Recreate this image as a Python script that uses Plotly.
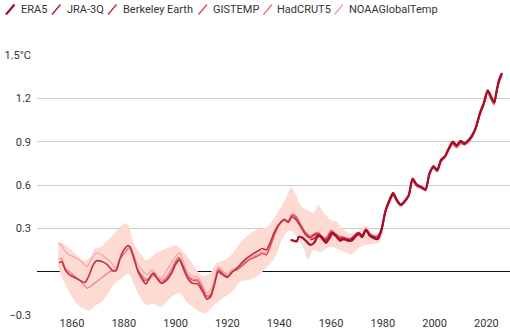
import plotly.graph_objects as go

# ---- Data: smoothed global temperature anomalies (°C above 1850-1900) ----
be_years = [1855, 1856, 1857.5, 1859, 1861, 1863, 1865, 1866.5, 1868, 1869.5, 1871.5, 1873.5, 1875.5, 1877,
            1878.5, 1880, 1881.5, 1882.5, 1884, 1885.5, 1887, 1888.5, 1890, 1891.5, 1893, 1894.5, 1896.5,
            1898.5, 1900, 1901.5, 1903, 1904.5, 1906.5, 1908.5, 1910.5, 1912, 1913.5, 1915, 1916.5, 1918,
            1920, 1922, 1924, 1926, 1928, 1930, 1932, 1933.5, 1935, 1936.5, 1938, 1940, 1942, 1943.5, 1945,
            1946.5, 1948, 1950, 1952, 1954, 1955.5, 1957, 1958.5, 1960, 1961.5, 1963, 1964.5, 1966, 1967.5,
            1969, 1970.5, 1972, 1973.5, 1975, 1976.5, 1978, 1979.5, 1981, 1982.5, 1984, 1985.5, 1987, 1988.5,
            1990, 1991.5, 1993, 1995, 1996.5, 1998, 1999.5, 2001, 2002.5, 2004, 2005.5, 2007, 2008.5, 2010,
            2011.5, 2013, 2014.5, 2016, 2017.5, 2019, 2020.5, 2022, 2023, 2024, 2025, 2026]
be_vals = [0.06, 0.07, 0.01, -0.02, -0.04, -0.06, -0.075, -0.03, 0.04, 0.075, 0.07, 0.05, 0.01, 0.005,
           0.09, 0.15, 0.18, 0.17, 0.09, 0.0, -0.05, -0.085, -0.04, -0.01, -0.05, -0.08, -0.06,
           -0.01, 0.05, 0.08, 0.02, -0.04, -0.08, -0.085, -0.14, -0.19, -0.175, -0.09, 0.0, -0.02,
           -0.04, 0.0, 0.03, 0.07, 0.10, 0.125, 0.145, 0.16, 0.15, 0.20, 0.27, 0.33, 0.36, 0.34, 0.38,
           0.36, 0.32, 0.26, 0.235, 0.26, 0.255, 0.215, 0.225, 0.27, 0.25, 0.23, 0.235, 0.225, 0.225,
           0.25, 0.27, 0.25, 0.295, 0.26, 0.245, 0.245, 0.30, 0.42, 0.49, 0.54, 0.49, 0.46, 0.49,
           0.53, 0.64, 0.605, 0.585, 0.57, 0.675, 0.725, 0.70, 0.77, 0.80, 0.85, 0.895, 0.87, 0.90,
           0.885, 0.905, 0.94, 1.0, 1.095, 1.165, 1.25, 1.195, 1.17, 1.255, 1.33, 1.37]

had_years = [1855, 1856, 1857.5, 1859, 1861, 1863, 1864.5, 1866, 1867.5, 1869.5, 1872, 1874.5, 1876.5,
             1878.5, 1880.5, 1882, 1883.5, 1885.5, 1887.5, 1889.5, 1891.5, 1893.5, 1895, 1897, 1899, 1901,
             1903, 1904.5, 1906.5, 1908.5, 1910.5, 1912, 1913.5, 1915, 1916.5, 1918, 1920, 1922, 1924, 1926,
             1928, 1930, 1932, 1933.5, 1935, 1936.5, 1938, 1940, 1942, 1943.5, 1945, 1946.5, 1948, 1950,
             1952, 1954, 1955.5, 1957, 1958.5, 1960, 1961.5, 1963, 1964.5, 1966, 1967.5, 1969, 1970.5, 1972,
             1973.5, 1975, 1976.5, 1978, 1979.5, 1981, 1982.5, 1984, 1985.5, 1987, 1988.5, 1990, 1991.5,
             1993, 1995, 1996.5, 1998, 1999.5, 2001, 2002.5, 2004, 2005.5, 2007, 2008.5, 2010, 2011.5, 2013,
             2014.5, 2016, 2017.5, 2019, 2020.5, 2022, 2023, 2024, 2025, 2026]
had_vals = [0.09, 0.09, 0.02, 0.0, -0.03, -0.06, -0.09, -0.115, -0.095, -0.07, -0.035, 0.0, 0.01,
            0.09, 0.13, 0.165, 0.105, 0.01, -0.035, -0.06, -0.025, -0.05, -0.06, -0.025, 0.04, 0.10,
            0.04, -0.02, -0.05, -0.055, -0.115, -0.165, -0.155, -0.075, 0.02, -0.005, -0.03, 0.005, 0.02, 0.05,
            0.08, 0.10, 0.115, 0.13, 0.12, 0.175, 0.25, 0.32, 0.355, 0.345, 0.39, 0.375, 0.33, 0.27,
            0.24, 0.26, 0.26, 0.22, 0.235, 0.285, 0.26, 0.24, 0.235, 0.225, 0.22, 0.24, 0.255, 0.235,
            0.285, 0.25, 0.235, 0.235, 0.29, 0.41, 0.475, 0.525, 0.48, 0.455, 0.48, 0.52, 0.625,
            0.59, 0.575, 0.56, 0.665, 0.715, 0.69, 0.76, 0.79, 0.84, 0.88, 0.855, 0.885, 0.875, 0.895,
            0.93, 0.99, 1.08, 1.15, 1.235, 1.18, 1.155, 1.24, 1.31, 1.355]

noaa_years = [1855, 1856, 1857.5, 1859, 1861, 1863, 1864.5, 1865.7, 1867, 1868.5, 1870, 1871.5, 1873.5,
              1875.5, 1877.3, 1879, 1880.5, 1882, 1883.7, 1885.2, 1887, 1889, 1891, 1892.7, 1894.6, 1896.6,
              1898.5, 1900.4, 1901.7, 1903, 1904.5, 1906.5, 1908.5, 1910.5, 1912, 1913.5, 1915, 1916.5, 1918,
              1920, 1922, 1924, 1926, 1928, 1930, 1932, 1933.5, 1935, 1936.5, 1938, 1940, 1942, 1943.5, 1945,
              1946.5, 1948, 1950, 1952, 1954, 1955.5, 1957, 1958.5, 1960, 1961.5, 1963, 1964.5, 1966, 1967.5,
              1969, 1970.5, 1972, 1973.5, 1975, 1976.5, 1978, 1979.5, 1981, 1982.5, 1984, 1985.5, 1987,
              1988.5, 1990, 1991.5, 1993, 1995, 1996.5, 1998, 1999.5, 2001, 2002.5, 2004, 2005.5, 2007,
              2008.5, 2010, 2011.5, 2013, 2014.5, 2016, 2017.5, 2019, 2020.5, 2022, 2023, 2024, 2025, 2026]
noaa_vals = [0.195, 0.18, 0.14, 0.115, 0.10, 0.08, 0.055, 0.035, 0.07, 0.115, 0.13, 0.115, 0.09,
             0.055, 0.015, 0.10, 0.14, 0.17, 0.125, 0.055, 0.01, -0.02, 0.01, -0.02, -0.045, 0.01,
             0.065, 0.115, 0.13, 0.07, 0.0, -0.03, -0.035, -0.095, -0.145, -0.13, -0.055, 0.035, 0.01,
             -0.015, 0.02, 0.03, 0.06, 0.09, 0.11, 0.125, 0.14, 0.13, 0.185, 0.26, 0.33, 0.365, 0.355, 0.40,
             0.385, 0.34, 0.28, 0.25, 0.27, 0.27, 0.23, 0.245, 0.29, 0.27, 0.25, 0.245, 0.235, 0.23,
             0.25, 0.265, 0.245, 0.29, 0.255, 0.24, 0.24, 0.295, 0.415, 0.48, 0.53, 0.485, 0.46,
             0.485, 0.52, 0.63, 0.595, 0.58, 0.565, 0.67, 0.72, 0.695, 0.765, 0.795, 0.845, 0.885,
             0.86, 0.89, 0.88, 0.90, 0.935, 0.995, 1.085, 1.155, 1.24, 1.19, 1.16, 1.245, 1.32, 1.36]

gis_years = [1885, 1886.5, 1888, 1889.5, 1891, 1892.5, 1894.5, 1896.5, 1898.5, 1900, 1901.5, 1903, 1904.5,
             1906.5, 1908.5, 1910.5, 1912, 1913.5, 1915, 1916.5, 1918, 1920, 1922, 1924, 1926, 1928, 1930,
             1932, 1933.5, 1935, 1936.5, 1938, 1940, 1942, 1943.5, 1945, 1946.5, 1948, 1950, 1952, 1954,
             1955.5, 1957, 1958.5, 1960, 1961.5, 1963, 1964.5, 1966, 1967.5, 1969, 1970.5, 1972, 1973.5,
             1975, 1976.5, 1978, 1979.5, 1981, 1982.5, 1984, 1985.5, 1987, 1988.5, 1990, 1991.5, 1993, 1995,
             1996.5, 1998, 1999.5, 2001, 2002.5, 2004, 2005.5, 2007, 2008.5, 2010, 2011.5, 2013, 2014.5,
             2016, 2017.5, 2019, 2020.5, 2022, 2023, 2024, 2025, 2026]
gis_vals = [0.03, -0.02, -0.06, -0.05, -0.015, -0.04, -0.075, -0.05, 0.0, 0.06, 0.095, 0.035, -0.025,
            -0.06, -0.065, -0.125, -0.175, -0.165, -0.085, 0.01, -0.01, -0.035, 0.0, 0.015, 0.045, 0.075, 0.095,
            0.11, 0.125, 0.115, 0.17, 0.245, 0.325, 0.36, 0.35, 0.395, 0.38, 0.335, 0.275, 0.245, 0.265,
            0.265, 0.225, 0.24, 0.28, 0.265, 0.245, 0.24, 0.23, 0.225, 0.245, 0.26, 0.24, 0.29,
            0.255, 0.24, 0.24, 0.295, 0.415, 0.485, 0.535, 0.485, 0.46, 0.485, 0.525, 0.635, 0.60, 0.58,
            0.565, 0.67, 0.72, 0.695, 0.765, 0.795, 0.845, 0.89, 0.865, 0.895, 0.88, 0.90, 0.935,
            0.995, 1.09, 1.16, 1.245, 1.19, 1.165, 1.25, 1.325, 1.365]

era5_years = [1944.4, 1945.5, 1946.8, 1947.5, 1949, 1950.5, 1952, 1953.5, 1955, 1956.5, 1958, 1959.5, 1960.5,
              1962, 1963.5, 1965, 1966.5, 1968, 1969.5, 1971, 1972, 1973.5, 1975, 1976.5, 1978, 1979.5, 1981,
              1982.5, 1984, 1985.5, 1987, 1988.5, 1990, 1991.5, 1993, 1995, 1996.5, 1998, 1999.5, 2001,
              2002.5, 2004, 2005.5, 2007, 2008.5, 2010, 2011.5, 2013, 2014.5, 2016, 2017.5, 2019, 2020.5,
              2022, 2023, 2024, 2025, 2026]
era5_vals = [0.22, 0.215, 0.21, 0.24, 0.235, 0.21, 0.185, 0.20, 0.245, 0.235, 0.20, 0.235, 0.27,
             0.245, 0.215, 0.225, 0.215, 0.215, 0.245, 0.265, 0.24, 0.29, 0.25, 0.235, 0.225, 0.29, 0.42,
             0.495, 0.545, 0.495, 0.465, 0.49, 0.53, 0.645, 0.605, 0.585, 0.57, 0.68, 0.73, 0.705,
             0.775, 0.80, 0.855, 0.90, 0.875, 0.905, 0.89, 0.91, 0.945, 1.005, 1.10, 1.17, 1.255,
             1.205, 1.175, 1.26, 1.335, 1.375]

jra_years = [1952, 1953.5, 1955, 1956.5, 1958, 1959.5, 1960.5, 1962, 1963.5, 1965, 1966.5, 1968, 1969.5,
             1971, 1972, 1973.5, 1975, 1976.5, 1978, 1979.5, 1981, 1982.5, 1984, 1985.5, 1987, 1988.5, 1990,
             1991.5, 1993, 1995, 1996.5, 1998, 1999.5, 2001, 2002.5, 2004, 2005.5, 2007, 2008.5, 2010,
             2011.5, 2013, 2014.5, 2016, 2017.5, 2019, 2020.5, 2022, 2023, 2024, 2025, 2026]
jra_vals = [0.22, 0.23, 0.255, 0.245, 0.21, 0.235, 0.265, 0.245, 0.225, 0.23, 0.22, 0.22, 0.245,
            0.26, 0.24, 0.285, 0.245, 0.23, 0.225, 0.285, 0.41, 0.485, 0.535, 0.49, 0.46, 0.485, 0.525,
            0.64, 0.60, 0.58, 0.565, 0.675, 0.725, 0.70, 0.77, 0.795, 0.85, 0.895, 0.87, 0.90,
            0.885, 0.905, 0.94, 1.0, 1.095, 1.165, 1.25, 1.20, 1.17, 1.255, 1.33, 1.37]

# HadCRUT5 uncertainty range
band_up_years = [1854.7, 1857.3, 1860.5, 1864.4, 1867, 1869, 1871.5, 1873.4, 1876, 1878.5, 1880.8, 1882.1,
                 1883.7, 1886.3, 1888.8, 1892, 1894, 1897.2, 1900.4, 1902.4, 1905.6, 1908.1, 1910.7, 1913.3,
                 1915.9, 1919.1, 1921.7, 1924.9, 1927.5, 1931.3, 1935.2, 1939, 1942.2, 1944.5, 1946.1, 1948.7,
                 1951.2, 1953.2, 1955, 1957, 1959.6, 1962.2, 1964.1, 1967.3, 1970, 1973.5, 1976, 1978.5, 1980]
band_up_vals = [0.21, 0.185, 0.14, 0.08, 0.10, 0.16, 0.175, 0.21, 0.255, 0.31, 0.335, 0.31,
                0.20, 0.13, 0.08, 0.125, 0.14, 0.165, 0.18, 0.15, 0.08, 0.01, -0.03, -0.01,
                0.06, 0.08, 0.12, 0.20, 0.245, 0.29, 0.31, 0.40, 0.495, 0.58, 0.545, 0.45,
                0.425, 0.41, 0.46, 0.415, 0.36, 0.345, 0.30, 0.265, 0.28, 0.32, 0.27, 0.265, 0.30]
band_lo_years = [1854.7, 1856.6, 1859.2, 1861.8, 1864.4, 1866.9, 1868.9, 1871.5, 1874, 1876.6, 1879.2, 1881.7,
                 1883.7, 1886.3, 1888.8, 1891.4, 1894, 1896.6, 1899.1, 1901.7, 1904.3, 1906.8, 1909.4, 1912,
                 1914.6, 1917.1, 1919.7, 1922.3, 1924.9, 1927.5, 1931.3, 1935.2, 1938.4, 1941.6, 1944.2, 1946.8,
                 1949.3, 1951.2, 1953.2, 1955.8, 1959.6, 1963.5, 1968, 1971.2, 1975, 1978.5, 1980]
band_lo_vals = [0.03, -0.06, -0.15, -0.22, -0.255, -0.27, -0.235, -0.21, -0.15, -0.08, -0.045, -0.015,
                -0.08, -0.175, -0.23, -0.22, -0.245, -0.21, -0.165, -0.15, -0.21, -0.245, -0.28, -0.285,
                -0.235, -0.20, -0.165, -0.13, -0.07, -0.06, -0.035, 0.03, 0.10, 0.24, 0.285, 0.24,
                0.17, 0.085, 0.15, 0.135, 0.17, 0.15, 0.12, 0.17, 0.19, 0.20, 0.26]

series_names = ["ERA5", "JRA-3Q", "Berkeley Earth", "GISTEMP", "HadCRUT5", "NOAAGlobalTemp"]
series_colors = ["#a50e2c", "#b8182f", "#c22f45", "#d9505f", "#e97a7c", "#f1a4a6"]
series_widths = [2.2, 1.5, 1.6, 1.2, 1.2, 1.2]
series_x = [era5_years, jra_years, be_years, gis_years, had_years, noaa_years]
series_y = [era5_vals, jra_vals, be_vals, gis_vals, had_vals, noaa_vals]

y_ticks = [-0.3, 0.3, 0.6, 0.9, 1.2, 1.5]
y_labels = ["\u22120.3", "0.3", "0.6", "0.9", "1.2", "1.5°C"]
x_ticks = [1860, 1880, 1900, 1920, 1940, 1960, 1980, 2000, 2020]

W, H = 510, 336
ML, MR, MT, MB = 37, 0, 55, 21
FONT = "Roboto"
TEXT = "#333333"

fig = go.Figure()

fig.add_trace(go.Scatter(
    x=band_up_years + band_lo_years[::-1],
    y=band_up_vals + band_lo_vals[::-1],
    fill="toself", fillcolor="#fddbd3", line=dict(width=0, shape="spline"),
    mode="lines", hoverinfo="skip", showlegend=False))

# draw lightest first so the reanalyses sit on top
for name, col, w, xs, ys in reversed(list(zip(series_names, series_colors, series_widths, series_x, series_y))):
    fig.add_trace(go.Scatter(x=xs, y=ys, mode="lines", name=name,
                             line=dict(color=col, width=w, shape="spline", smoothing=0.7),
                             showlegend=False))


def px_x(px):
    return (px - ML) / (W - ML - MR)


def px_y(py):
    return (H - MB - py) / (H - MT - MB)


# legend row: slanted swatches with labels
legend_slash_x = [6, 52, 108, 198.5, 263.5, 334.5]
legend_text_x = [18.5, 64.5, 120.5, 210.5, 275, 346.5]
shapes = []
annotations = []
for name, col, sx, tx, i in zip(series_names, series_colors, legend_slash_x, legend_text_x, range(6)):
    shapes.append(dict(type="line", xref="paper", yref="paper",
                       x0=px_x(sx), y0=px_y(14.5), x1=px_x(sx + 8.5), y1=px_y(4.5),
                       line=dict(color=col, width=2.2 if i == 0 else 1.4)))
    annotations.append(dict(text=name, xref="paper", yref="paper", x=px_x(tx), y=px_y(9.5),
                            xanchor="left", yanchor="middle", showarrow=False,
                            font=dict(family=FONT, size=11, color=TEXT)))

fig.update_layout(
    width=W, height=H,
    margin=dict(l=ML, r=MR, t=MT, b=MB),
    paper_bgcolor="white", plot_bgcolor="white",
    shapes=shapes, annotations=annotations,
    font=dict(family=FONT, size=11, color=TEXT),
    xaxis=dict(range=[1846.5, 2029.1], tickvals=x_ticks, showgrid=False, zeroline=False,
               showline=False, ticks="", tickfont=dict(size=11, color=TEXT)),
    yaxis=dict(range=[-0.3, 1.5], tickvals=y_ticks, ticktext=y_labels, showgrid=True,
               gridcolor="#cccccc", gridwidth=1, zeroline=True, zerolinecolor="#111111",
               zerolinewidth=1, showline=False, ticks="", ticklabelstandoff=5,
               tickfont=dict(size=11, color=TEXT)),
)

fig.write_html("out.html")
